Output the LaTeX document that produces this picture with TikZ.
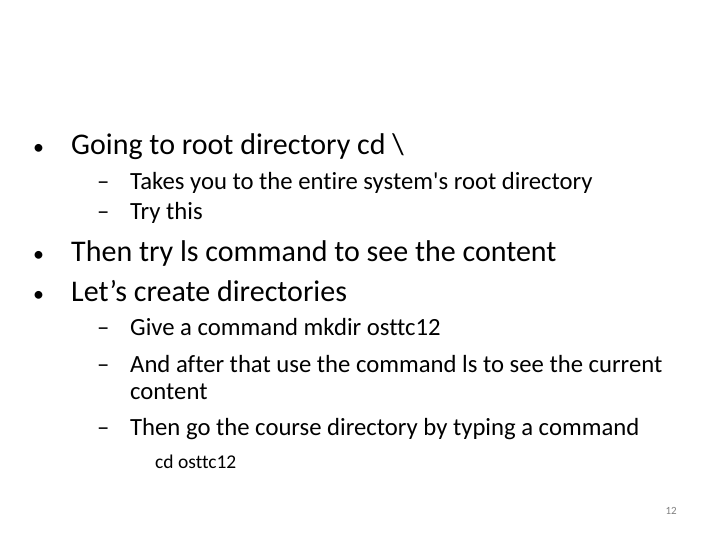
\documentclass[tikz,border=0pt]{standalone}
\usepackage{fontspec}
\setmainfont[Ligatures={NoCommon,NoContextual}]{Carlito}
\begin{document}
\begin{tikzpicture}[x=1pt,y=1pt,
  bul/.style={anchor=base west,inner sep=0pt,font=\fontsize{22}{26}\selectfont},
  lone/.style={anchor=base west,inner sep=0pt,font=\fontsize{30}{36}\selectfont},
  ltwo/.style={anchor=base west,inner sep=0pt,font=\fontsize{24.7}{29}\selectfont},
  lthree/.style={anchor=base west,inner sep=0pt,font=\fontsize{19.5}{23}\selectfont}]
\useasboundingbox (0,0) rectangle (720,540);
\node[bul] (b1) at (33,385) {•};
\node[lone] (t1) at (71,385) {Going to root directory cd \textbackslash};
\node[ltwo] (d1) at (97,350) {–};
\node[ltwo] (s1) at (130,350) {Takes you to the entire system\textquotesingle s root directory};
\node[ltwo] (d2) at (97,320) {–};
\node[ltwo] (s2) at (130,320) {Try this};
\node[bul] (b2) at (33,278) {•};
\node[lone] (t2) at (71,278) {Then try ls command to see the content};
\node[bul] (b3) at (33,238) {•};
\node[lone] (t3) at (71,238) {Let’s create directories};
\node[ltwo] (d3) at (97,204) {–};
\node[ltwo] (s3) at (130,204) {Give a command mkdir osttc12};
\node[ltwo] (d4) at (97,167) {–};
\node[ltwo] (s4) at (130,167) {And after that use the command ls to see the current};
\node[ltwo] (s4b) at (130,140) {content};
\node[ltwo] (d5) at (97,104) {–};
\node[ltwo] (s5) at (130,104) {Then go the course directory by typing a command};
\node[lthree] (s6) at (155,71) {cd osttc12};
\node[anchor=base east,inner sep=0pt,font=\fontsize{11}{13}\selectfont,text=gray] (pg) at (677,25) {12};
\end{tikzpicture}
\end{document}
